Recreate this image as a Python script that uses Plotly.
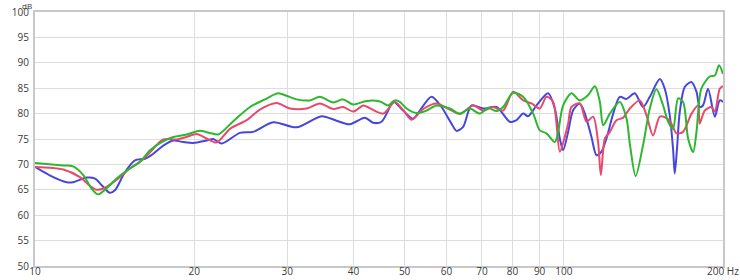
import plotly.graph_objects as go

# ---- data (Hz, dB) ----
green_hz = [10.0, 11.31, 11.80, 12.34, 12.80, 13.17, 13.56, 14.27, 14.91, 15.79, 16.50, 17.36,
            18.26, 19.35, 20.50, 21.42, 22.21, 23.71, 25.50, 27.21, 28.84, 29.91, 31.24, 33.10,
            34.57, 36.64, 38.26, 39.96, 42.36, 44.89, 46.54, 47.91, 48.98, 50.42, 52.66, 55.01,
            57.45, 60.87, 63.59, 66.41, 69.36, 71.92, 74.60, 76.78, 80.2, 83.78, 87.5, 90.08,
            92.75, 96.16, 97.55, 99.7, 103.4, 107.2, 111.1, 114.5, 117.0, 118.7, 122.2, 127.6,
            131.4, 133.3, 136.7, 141.2, 145.4, 149.7, 154.1, 157.5, 160.9, 164.5, 168.1, 171.8,
            175.6, 178.2, 182.0, 188.8, 193.0, 196.6, 200.0]
green_db = [70.3, 69.8, 69.6, 67.9, 65.2, 64.1, 65.0, 67.2, 68.8, 70.5, 72.8, 74.4,
            75.4, 75.9, 76.6, 76.2, 75.9, 78.5, 81.3, 82.8, 84.0, 83.5, 82.8, 82.6,
            83.3, 82.2, 82.8, 81.8, 82.5, 82.4, 81.6, 82.6, 82.3, 81.0, 80.1, 80.6,
            81.6, 81.0, 80.0, 81.0, 80.0, 81.1, 80.5, 81.3, 84.1, 83.3, 80.0, 76.7,
            76.1, 74.4, 76.4, 81.6, 84.0, 82.6, 83.6, 85.4, 82.3, 77.7, 80.0, 82.3,
            79.0, 74.1, 67.7, 73.8, 81.0, 84.8, 81.6, 78.4, 77.0, 83.0, 82.3, 75.1,
            72.4, 76.4, 84.9, 87.3, 87.5, 89.5, 87.8]

red_hz = [10.0, 11.31, 12.16, 12.70, 13.08, 13.56, 14.27, 15.12, 15.79, 16.50, 17.48, 18.53,
          19.35, 20.21, 21.11, 22.05, 23.37, 25.13, 26.63, 28.64, 30.34, 32.63, 34.57, 36.64,
          38.26, 39.96, 41.73, 42.36, 45.54, 47.91, 49.68, 51.53, 54.20, 57.45, 60.87, 63.59,
          67.36, 70.38, 73.51, 76.78, 80.2, 83.78, 86.89, 90.08, 92.75, 95.46, 98.27, 100.4,
          101.9, 103.4, 107.2, 110.4, 113.6, 116.1, 117.5, 119.6, 122.2, 125.8, 129.5, 133.3,
          139.2, 143.3, 147.5, 151.9, 156.4, 159.8, 163.3, 168.1, 174.4, 179.4, 180.7, 184.7,
          190.2, 193.0, 197.2, 200.0]
red_db = [69.5, 69.0, 67.5, 65.8, 65.0, 65.4, 67.0, 69.2, 70.5, 72.4, 74.9, 74.9,
          75.4, 76.0, 75.1, 74.3, 77.0, 78.7, 80.8, 82.1, 81.0, 81.0, 82.0, 80.9,
          81.3, 80.4, 81.6, 81.4, 80.0, 82.3, 80.7, 78.8, 80.9, 82.0, 80.8, 79.9,
          81.6, 80.6, 81.3, 80.6, 84.3, 82.6, 82.0, 81.0, 83.3, 82.3, 72.5, 75.4,
          78.0, 81.3, 82.0, 78.4, 79.4, 74.4, 67.9, 75.1, 76.4, 78.7, 79.2, 81.0,
          82.6, 79.7, 75.7, 79.4, 79.1, 78.0, 76.1, 76.4, 80.0, 81.6, 78.0, 80.6,
          81.3, 80.4, 84.9, 85.4]

blue_hz = [10.0, 10.68, 11.48, 11.80, 12.52, 12.99, 13.37, 13.86, 14.16, 14.80, 15.45, 16.14,
           16.74, 17.48, 18.26, 19.06, 19.91, 21.11, 21.73, 22.54, 24.41, 25.87, 28.22, 31.24,
           34.83, 37.18, 39.39, 42.05, 43.60, 45.22, 46.54, 47.56, 49.68, 51.89, 53.43, 56.21,
           58.71, 61.33, 62.68, 64.51, 66.90, 70.38, 74.60, 79.04, 81.38, 83.78, 85.61, 88.80,
           93.40, 96.16, 98.27, 99.70, 101.9, 104.1, 107.2, 109.6, 112.8, 115.3, 117.8, 120.4,
           124.0, 127.6, 131.4, 136.2, 141.2, 145.4, 151.9, 155.2, 158.6, 160.9, 162.1, 163.7,
           165.7, 169.4, 174.4, 178.2, 180.7, 183.3, 187.4, 193.0, 197.2, 200.0]
blue_db = [69.5, 67.8, 66.5, 66.5, 67.4, 67.2, 65.9, 64.4, 64.9, 68.5, 70.8, 71.1,
           72.1, 73.7, 74.7, 74.4, 74.2, 74.7, 75.0, 74.1, 76.2, 76.4, 78.3, 77.3,
           79.5, 78.6, 77.9, 79.2, 78.2, 78.4, 80.6, 82.4, 80.6, 79.0, 80.6, 83.3,
           81.3, 78.0, 76.6, 77.4, 81.6, 81.0, 81.3, 78.4, 78.7, 80.0, 79.5, 81.6,
           84.0, 81.0, 75.1, 72.8, 76.4, 80.6, 82.0, 80.0, 75.4, 71.8, 72.5, 75.1,
           80.0, 83.3, 82.9, 84.0, 81.3, 83.3, 86.8, 84.9, 79.7, 73.1, 68.2, 73.1,
           80.4, 85.3, 86.2, 84.3, 81.3, 81.6, 84.9, 79.4, 82.6, 82.3]

x_ticks = [10, 20, 30, 40, 50, 60, 70, 80, 90, 100, 200]
x_ticktext = ["10", "20", "30", "40", "50", "60", "70", "80", "90", "100", "200 Hz"]
y_ticks = [50, 55, 60, 65, 70, 75, 80, 85, 90, 95, 100]

fig = go.Figure()
for hz, db, col in [(blue_hz, blue_db, "#4646de"),
                    (red_hz, red_db, "#e9496c"),
                    (green_hz, green_db, "#2cb82c")]:
    fig.add_trace(go.Scatter(x=hz, y=db, mode="lines",
                             line=dict(color=col, width=2, shape="spline", smoothing=0.8),
                             hoverinfo="skip", showlegend=False))

font = dict(family="Open Sans, DejaVu Sans, sans-serif", size=10, color="#3a3a3a")
fig.update_layout(
    width=740, height=280,
    margin=dict(l=35, r=17, t=12, b=14, autoexpand=False),
    paper_bgcolor="white", plot_bgcolor="white",
    font=font,
    xaxis=dict(type="log", range=[1, 2.30103], tickvals=x_ticks, ticktext=x_ticktext,
               showgrid=True, gridcolor="#dddddd", gridwidth=1.3,
               showline=True, linecolor="#c8c8c8", linewidth=2, mirror=True,
               ticks="", zeroline=False, tickfont=font, ticklabelstandoff=-5,
               automargin=False),
    yaxis=dict(range=[50, 100], tickvals=y_ticks,
               showgrid=True, gridcolor="#dddddd", gridwidth=1.3,
               showline=True, linecolor="#c8c8c8", linewidth=2, mirror=True,
               ticks="", zeroline=False, tickfont=font, ticklabelstandoff=2,
               automargin=False),
    annotations=[dict(text="dB", xref="paper", yref="paper", x=-0.012, y=1.026,
                      xanchor="center", yanchor="middle", showarrow=False,
                      font=dict(family=font["family"], size=8, color="#3a3a3a"))],
)
fig.write_html("out.html")
